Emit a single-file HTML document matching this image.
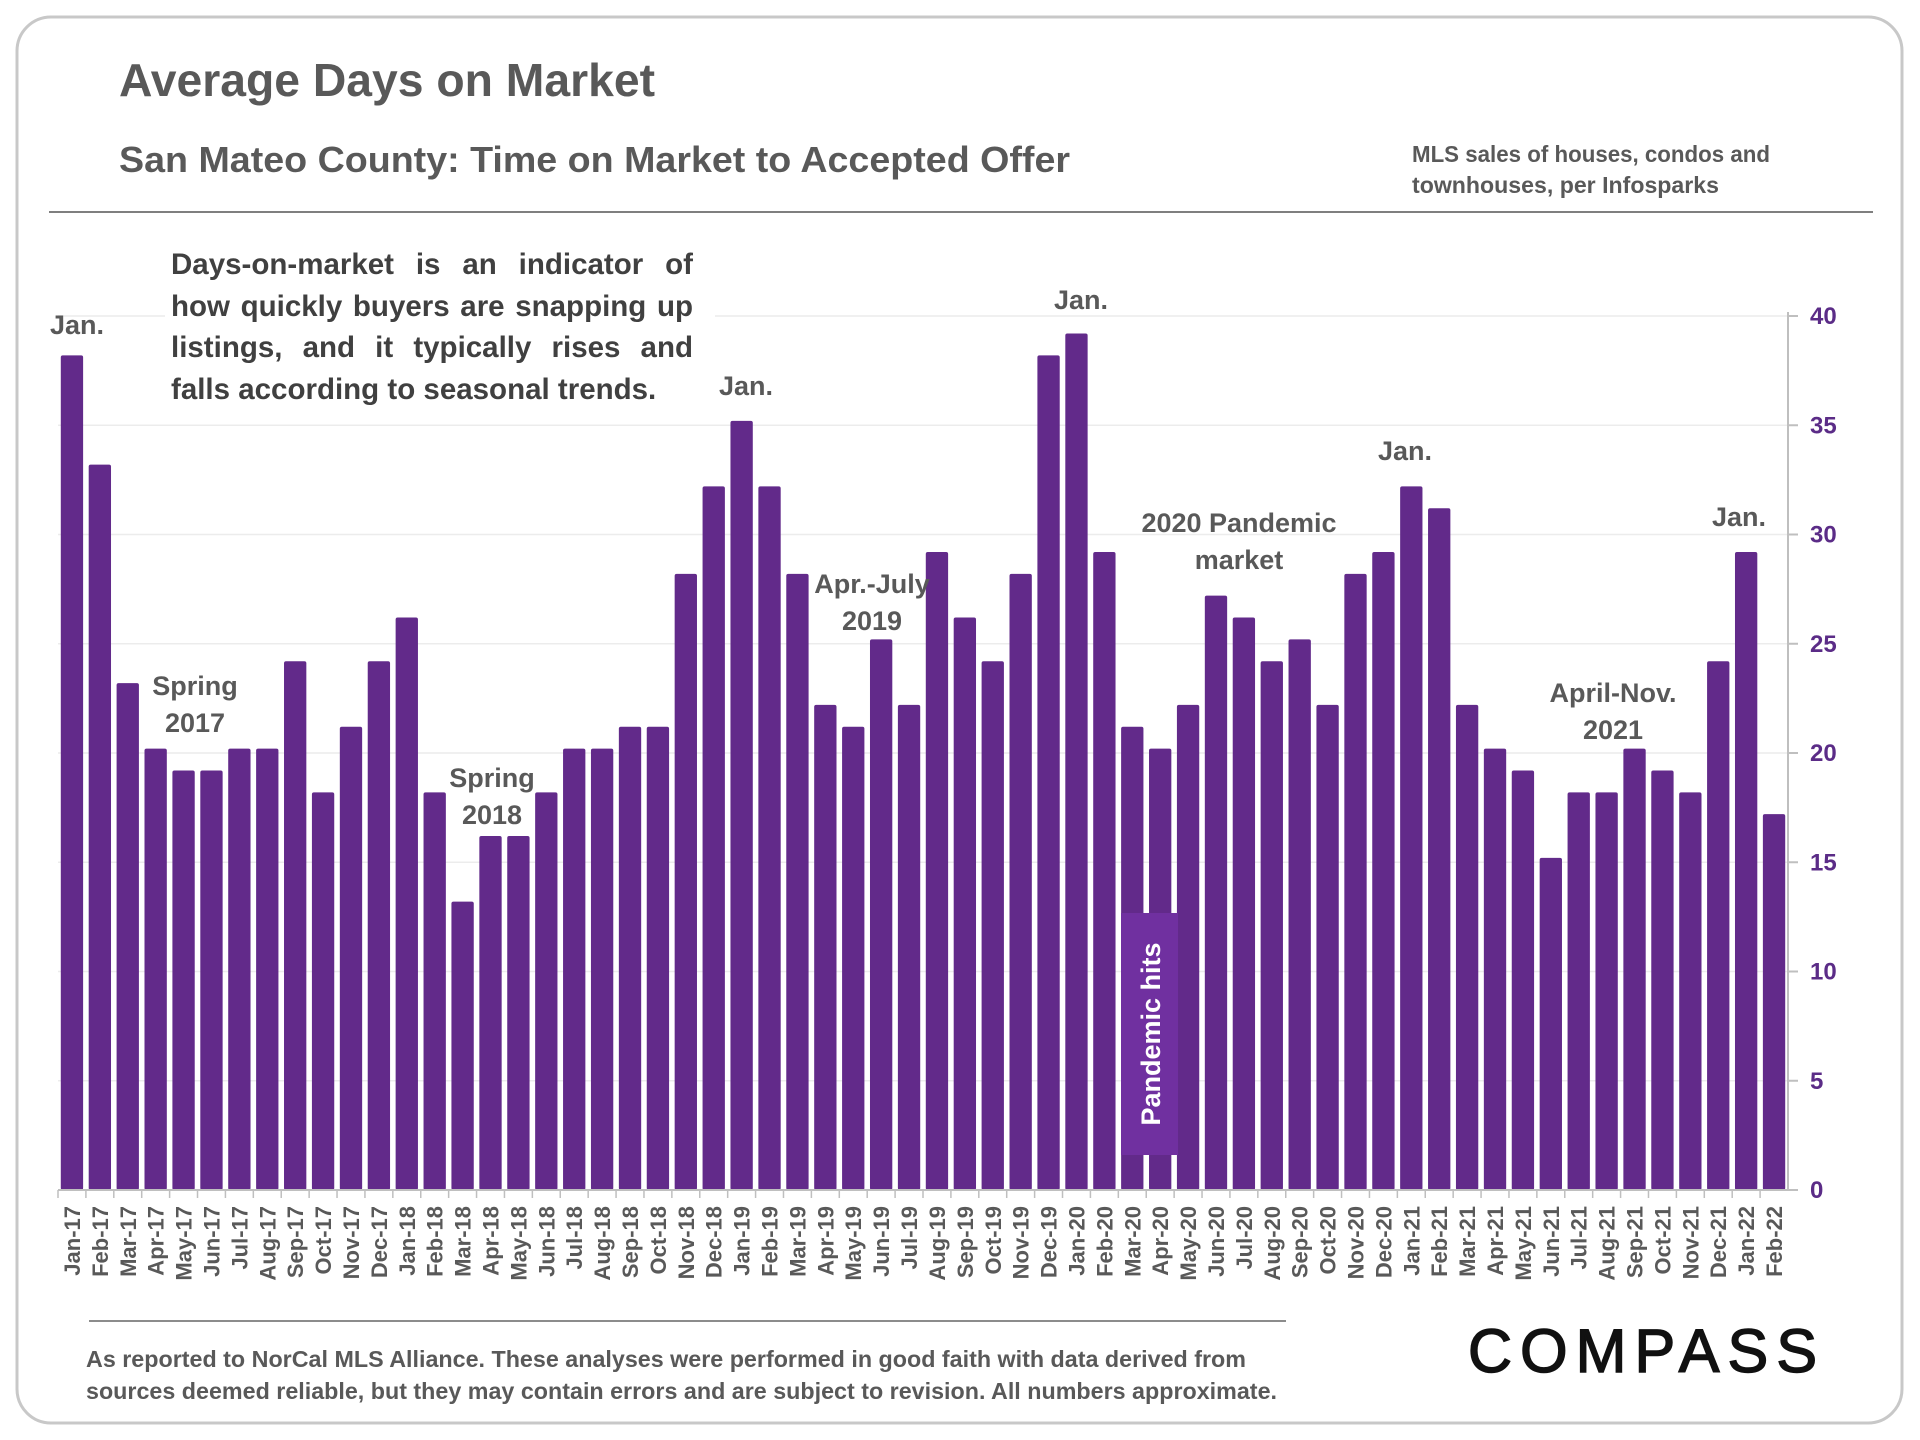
<!DOCTYPE html>
<html><head><meta charset="utf-8"><style>
html,body{margin:0;padding:0;background:#fff;}
body{width:1920px;height:1440px;position:relative;overflow:hidden;font-family:"Liberation Sans",sans-serif;}
svg{position:absolute;left:0;top:0;}
#intro{position:absolute;left:171px;top:244px;width:522px;font-size:29.5px;line-height:41.7px;font-weight:bold;color:#404040;text-align:justify;text-align-last:left;background:#fff;padding:0;}
</style></head><body>
<svg id="chart" width="1920" height="1440" viewBox="0 0 1920 1440" font-family="Liberation Sans, DejaVu Sans, sans-serif">
<rect x="17" y="17" width="1885" height="1406" rx="34" fill="#fff" stroke="#c8c8c8" stroke-width="3"/>
<text x="119" y="96" font-size="46" font-weight="bold" fill="#595959" textLength="536" lengthAdjust="spacingAndGlyphs">Average Days on Market</text>
<text x="119" y="172" font-size="36" font-weight="bold" fill="#595959" textLength="951" lengthAdjust="spacingAndGlyphs">San Mateo County: Time on Market to Accepted Offer</text>
<text font-size="23" font-weight="bold" fill="#595959"><tspan x="1412" y="162" textLength="358" lengthAdjust="spacingAndGlyphs">MLS sales of houses, condos and</tspan><tspan x="1412" y="193" textLength="307" lengthAdjust="spacingAndGlyphs">townhouses, per Infosparks</tspan></text>
<line x1="49" y1="212" x2="1873" y2="212" stroke="#7f7f7f" stroke-width="2"/>
<g id="grid"></g>
<g id="bars"></g>
<g id="axes"></g>
<rect x="165" y="238" width="550" height="170" fill="#fff"/>
<g id="annots" font-size="27" font-weight="bold" fill="#595959" text-anchor="middle"></g>
<rect x="1121" y="913" width="57" height="242" fill="#7030a0"/>
<text transform="translate(1160,1034) rotate(-90)" text-anchor="middle" font-size="27" font-weight="bold" fill="#fff">Pandemic hits</text>
<line x1="89" y1="1321" x2="1286" y2="1321" stroke="#8c8c8c" stroke-width="2"/>
<text font-size="23" font-weight="bold" fill="#595959"><tspan x="86" y="1367" textLength="1160" lengthAdjust="spacingAndGlyphs">As reported to NorCal MLS Alliance. These analyses were performed in good faith with data derived from</tspan><tspan x="86" y="1399" textLength="1191" lengthAdjust="spacingAndGlyphs">sources deemed reliable, but they may contain errors and are subject to revision. All numbers approximate.</tspan></text>
<text x="1468" y="1372" font-size="61" fill="#111" stroke="#111" stroke-width="1.5" textLength="349" lengthAdjust="spacing">COMPASS</text>
</svg>
<div id="intro">Days-on-market is an indicator of how quickly buyers are snapping up listings, and it typically rises and falls according to seasonal trends.</div>
<script>
const categories=["Jan-17","Feb-17","Mar-17","Apr-17","May-17","Jun-17","Jul-17","Aug-17","Sep-17","Oct-17","Nov-17","Dec-17","Jan-18","Feb-18","Mar-18","Apr-18","May-18","Jun-18","Jul-18","Aug-18","Sep-18","Oct-18","Nov-18","Dec-18","Jan-19","Feb-19","Mar-19","Apr-19","May-19","Jun-19","Jul-19","Aug-19","Sep-19","Oct-19","Nov-19","Dec-19","Jan-20","Feb-20","Mar-20","Apr-20","May-20","Jun-20","Jul-20","Aug-20","Sep-20","Oct-20","Nov-20","Dec-20","Jan-21","Feb-21","Mar-21","Apr-21","May-21","Jun-21","Jul-21","Aug-21","Sep-21","Oct-21","Nov-21","Dec-21","Jan-22","Feb-22"];
const daysOnMarket=[38,33,23,20,19,19,20,20,24,18,21,24,26,18,13,16,16,18,20,20,21,21,28,32,35,32,28,22,21,25,22,29,26,24,28,38,39,29,21,20,22,27,26,24,25,22,28,29,32,31,22,20,19,15,18,18,20,19,18,24,29,17];
const yTicks=[0,5,10,15,20,25,30,35,40];
const NS="http://www.w3.org/2000/svg";
const X0=58,X1=1788,Y0=1190,Y40=316;
const step=(X1-X0)/categories.length;
function xScale(i){return X0+step*(i+0.5);}
function yScale(v){return Y0-(Y0-Y40)*v/40;}
function mk(tag,attrs,parent){const e=document.createElementNS(NS,tag);for(const k in attrs)e.setAttribute(k,attrs[k]);parent.appendChild(e);return e;}
const grid=document.getElementById('grid'),bars=document.getElementById('bars'),axes=document.getElementById('axes'),annots=document.getElementById('annots');
yTicks.forEach(t=>{
  const y=yScale(t);
  if(t>0){const g=mk('line',{x1:X0,x2:X1,y1:y,y2:y,stroke:'#ececec','stroke-width':1.5},grid);
  
  }
  const tk=mk('line',{x1:X1,x2:X1+10,y1:y,y2:y,stroke:'#bfbfbf','stroke-width':2},axes);
  
  
  const lb=mk('text',{x:1810,y:y+8,'font-size':24,'font-weight':'bold',fill:'#5b2c87'},axes);
  lb.textContent=t;
  
  
});
const ax=mk('line',{x1:X1,x2:X1,y1:Y40-4,y2:Y0,stroke:'#bfbfbf','stroke-width':2},axes);


const xa=mk('line',{x1:X0,x2:X1,y1:Y0,y2:Y0,stroke:'#bfbfbf','stroke-width':2},axes);


const bw=step*0.8;
categories.forEach((c,i)=>{
  const v=daysOnMarket[i],x=xScale(i),y=yScale(v+0.2);
  const r=mk('rect',{x:x-bw/2,y:y,width:bw,height:Y0-y,rx:2,fill:'#622a8a'},bars);
  
  
  const tk=mk('line',{x1:X0+step*i,x2:X0+step*i,y1:Y0,y2:Y0+8,stroke:'#bfbfbf','stroke-width':1.5},axes);
  
  
  const t=mk('text',{transform:`translate(${x+8},${Y0+16}) rotate(-90)`,'text-anchor':'end','font-size':22,'font-weight':'bold',fill:'#595959'},axes);
  t.textContent=c;
  
  
});
const annotations=[["Jan.",null,77,334],["Jan.",null,746,395],["Jan.",null,1081,309],["Jan.",null,1405,460],["Jan.",null,1739,526],["Spring","2017",195,695],["Spring","2018",492,787],["Apr.-July","2019",872,593],["2020 Pandemic","market",1239,532],["April-Nov.","2021",1613,702]];
annotations.forEach(a=>{
  const t=mk('text',{x:a[2],y:a[3]},annots);
  const s1=mk('tspan',{x:a[2],y:a[3]},t);s1.textContent=a[0];
  if(a[1]){const s2=mk('tspan',{x:a[2],y:a[3]+37},t);s2.textContent=a[1];}
  
  
});
</script>
</body></html>
